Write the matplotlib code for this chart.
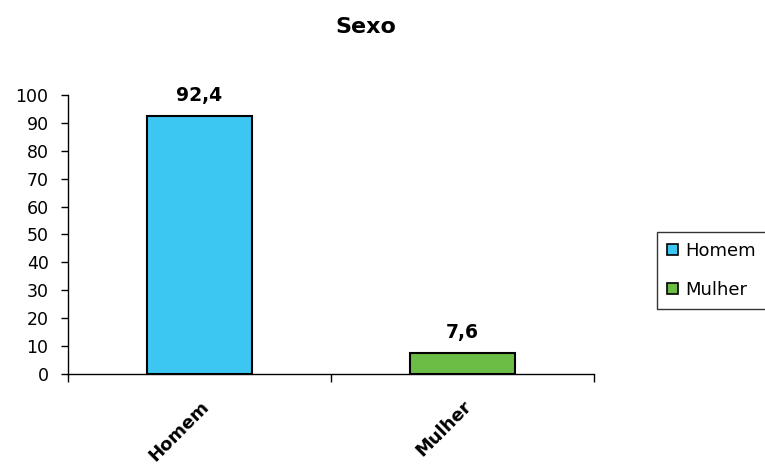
import matplotlib.pyplot as plt

plt.rcParams['font.family'] = ['DejaVu Sans']

# Distribuição por sexo (%)
categorias = ["Homem", "Mulher"]
percentuais = [92.4, 7.6]
rotulos = ["92,4", "7,6"]
cores = ["#3BC7F2", "#6BBD45"]

fig = plt.figure(figsize=(7.65, 4.7), dpi=100)
ax = fig.add_axes([0.0889, 0.2043, 0.6876, 0.5936])

x = range(len(categorias))
ax.bar(x, percentuais, width=0.4, color=cores, edgecolor="black", linewidth=1.5)

for xi, v, txt in zip(x, percentuais, rotulos):
    ax.annotate(txt, (xi, v), xytext=(0, 8), textcoords="offset points",
                ha="center", va="bottom", fontsize=13.5, fontweight="bold")

ax.set_xlim(-0.5, 1.5)
ax.set_ylim(0, 100)
ax.set_yticks(range(0, 101, 10))
ax.tick_params(axis="y", direction="out", length=5, width=1, labelsize=12.5, pad=9)

# rótulos das categorias sem traço; traços entre categorias
ax.set_xticks(list(x))
ax.set_xticklabels(categorias, rotation=45, ha="right", rotation_mode="anchor",
                   fontsize=13, fontweight="bold")
ax.tick_params(axis="x", length=0, pad=17)
ax.set_xticks([-0.5, 0.5, 1.5], minor=True)
ax.tick_params(axis="x", which="minor", direction="out", length=6, width=1)

for s in ["top", "right"]:
    ax.spines[s].set_visible(False)
for s in ["left", "bottom"]:
    ax.spines[s].set_linewidth(1)

fig.text(0.478, 0.943, "Sexo", ha="center", va="center", fontsize=16, fontweight="bold")

handles = [plt.Rectangle((0, 0), 1, 1, facecolor=c, edgecolor="black", linewidth=1.2)
           for c in cores]
leg = fig.legend(handles, categorias, loc="upper left",
                 bbox_to_anchor=(657 / 765, 1 - 232 / 470), fontsize=13,
                 frameon=True, fancybox=False, edgecolor="black",
                 handlelength=0.6, handleheight=0.6, handletextpad=0.4,
                 labelspacing=1.15, borderpad=0.55, borderaxespad=0)
leg.get_frame().set_linewidth(1)

fig.savefig("out.png", dpi=100)
